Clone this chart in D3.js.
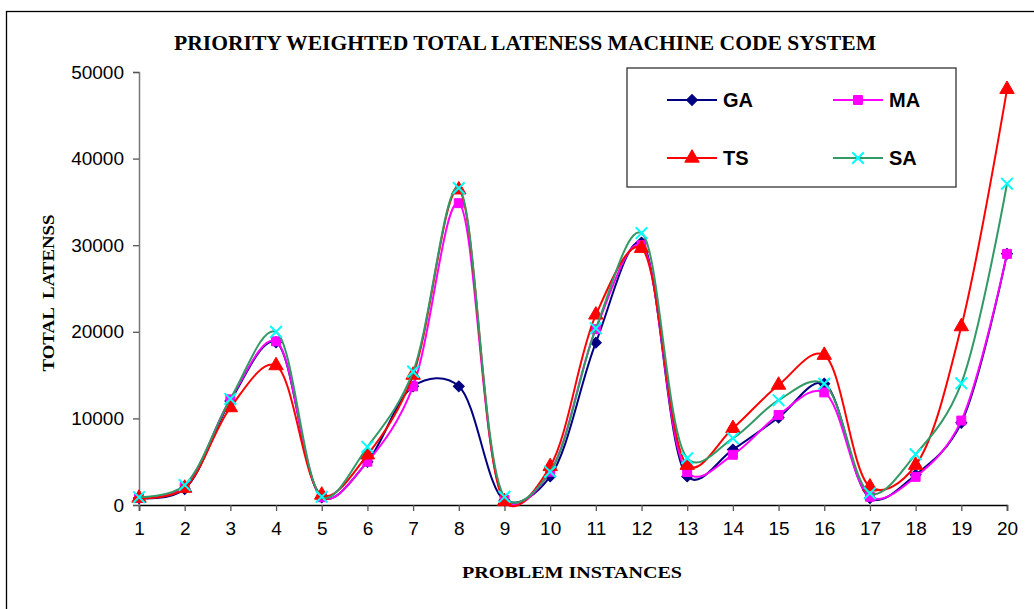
<!DOCTYPE html>
<html>
<head>
<meta charset="utf-8">
<script src="https://cdn.jsdelivr.net/npm/d3@7"></script>
<style>
  body { margin: 0; background: #fff; }
  svg { display: block; }
  text { white-space: pre; }
</style>
</head>
<body>
<div id="chart"></div>
<script>
// chart data
const instances = d3.range(1, 21)
const gaValues = [800, 1850, 12000, 18800, 900, 5000, 13700, 13700, 550, 3300, 18750, 30300, 3300, 6400, 10100, 14000, 800, 3500, 9500, 29000]
const maValues = [800, 2100, 12200, 18900, 900, 5000, 13700, 34850, 600, 3850, 20300, 30000, 3800, 5800, 10400, 13000, 950, 3250, 9750, 29000]
const tsValues = [800, 1950, 11250, 16100, 1150, 5800, 15000, 36400, 400, 4450, 21950, 29650, 4600, 8850, 13850, 17300, 2100, 4600, 20600, 48000]
const saValues = [900, 2300, 12250, 20000, 950, 6700, 15400, 36600, 950, 3850, 20400, 31400, 5400, 7700, 12100, 14000, 1350, 5850, 14050, 37100]
const yTicks = [0, 10000, 20000, 30000, 40000, 50000]

const series = [
  { name: 'GA', values: gaValues, line: '#000080', fill: '#000080', marker: 'diamond' },
  { name: 'MA', values: maValues, line: '#ff00ff', fill: '#ff00ff', marker: 'square' },
  { name: 'TS', values: tsValues, line: '#ff0000', fill: '#ff0000', marker: 'triangle' },
  { name: 'SA', values: saValues, line: '#339966', fill: '#00ffff', marker: 'cross' },
]

const W = 1034, H = 609
const margin = { top: 72, right: 27, bottom: 104, left: 139 }
const width = W - margin.left - margin.right
const height = H - margin.top - margin.bottom

const svg = d3.select('#chart').append('svg')
  .attr('width', W)
  .attr('height', H)

// outer frame (runs past the right and bottom edges)
svg.append('rect')
  .attr('x', 6.5).attr('y', 11.5)
  .attr('width', 1100).attr('height', 700)
  .attr('fill', 'none').attr('stroke', '#000').attr('stroke-width', 1.3)

const x = d3.scaleLinear().domain([1, 20]).range([0, width])
const y = d3.scaleLinear().domain([0, 50000]).range([height, 0])

const g = svg.append('g').attr('transform', `translate(${margin.left},${margin.top})`)

// axes
const xAxis = g.append('g')
  .attr('transform', `translate(0,${height})`)
  .call(d3.axisBottom(x).tickValues(instances).tickFormat(d3.format('d')).tickSize(6).tickPadding(11))
xAxis.select('.domain').attr('stroke', '#000').attr('stroke-width', 1.5)
xAxis.selectAll('.tick line').attr('stroke', '#555').attr('stroke-width', 1.3)

const yAxis = g.append('g')
  .call(d3.axisLeft(y).tickValues(yTicks).tickFormat(d3.format('d')).tickSize(6).tickPadding(9))
yAxis.select('.domain').attr('stroke', '#777').attr('stroke-width', 1.5)
yAxis.selectAll('.tick line').attr('stroke', '#555').attr('stroke-width', 1.3)

svg.selectAll('.tick text')
  .attr('font-family', 'Liberation Sans, Arial, sans-serif')
  .attr('font-size', 19)
  .attr('fill', '#000')

// lines and markers
const line = d3.line()
  .x((d, i) => x(instances[i]))
  .y(d => y(d))
  .curve(d3.curveCatmullRom.alpha(0.3))

const symbols = {
  diamond: d3.symbol().type(d3.symbolSquare).size(60),
  square: d3.symbol().type(d3.symbolSquare).size(80),
  triangle: d3.symbol().type(d3.symbolTriangle).size(90),
  cross: d3.symbol().type(d3.symbolTimes).size(90),
}

function drawMarker(sel, s) {
  sel.attr('d', symbols[s.marker]())
  // diamond = square turned 45 degrees
  if (s.marker === 'diamond') {
    sel.attr('transform', function () {
      return (this.getAttribute('transform') || '') + ' rotate(45)'
    })
  }
  if (s.marker === 'cross') {
    sel.attr('fill', 'none').attr('stroke', s.fill).attr('stroke-width', 2)
  } else {
    sel.attr('fill', s.fill).attr('stroke', s.fill).attr('stroke-width', 1)
  }
}

series.forEach(s => {
  g.append('path')
    .datum(s.values)
    .attr('d', line)
    .attr('fill', 'none')
    .attr('stroke', s.line)
    .attr('stroke-width', 2)

  g.selectAll('.m-' + s.name)
    .data(s.values)
    .join('path')
    .attr('class', 'm-' + s.name)
    .attr('transform', (d, i) => `translate(${x(instances[i])},${y(d)})`)
    .call(drawMarker, s)
})

// title and axis titles
svg.append('text')
  .attr('x', 525).attr('y', 50)
  .attr('text-anchor', 'middle')
  .attr('font-family', 'Liberation Serif, Times New Roman, serif')
  .attr('font-weight', 'bold')
  .attr('font-size', 21)
  .attr('textLength', 702)
  .attr('lengthAdjust', 'spacingAndGlyphs')
  .text('PRIORITY WEIGHTED TOTAL LATENESS MACHINE CODE SYSTEM')

svg.append('text')
  .attr('transform', 'translate(54,293) rotate(-90)')
  .attr('text-anchor', 'middle')
  .attr('font-family', 'Liberation Serif, Times New Roman, serif')
  .attr('font-weight', 'bold')
  .attr('font-size', 17)
  .attr('textLength', 157)
  .attr('lengthAdjust', 'spacingAndGlyphs')
  .text('TOTAL  LATENSS')

svg.append('text')
  .attr('x', 572).attr('y', 578)
  .attr('text-anchor', 'middle')
  .attr('font-family', 'Liberation Serif, Times New Roman, serif')
  .attr('font-weight', 'bold')
  .attr('font-size', 17)
  .attr('textLength', 220)
  .attr('lengthAdjust', 'spacingAndGlyphs')
  .text('PROBLEM INSTANCES')

// legend
const legend = svg.append('g').attr('transform', 'translate(627,68)')
legend.append('rect')
  .attr('width', 329).attr('height', 119)
  .attr('fill', '#fff').attr('stroke', '#333').attr('stroke-width', 1.3)

const legendPos = [[40, 32], [206, 32], [40, 90], [206, 90]]
series.forEach((s, i) => {
  const [lx, ly] = legendPos[i]
  const item = legend.append('g').attr('transform', `translate(${lx},${ly})`)
  item.append('line')
    .attr('x1', 0).attr('x2', 50)
    .attr('stroke', s.line).attr('stroke-width', 2)
  item.append('path')
    .attr('transform', 'translate(25,0)')
    .call(drawMarker, s)
  item.append('text')
    .attr('x', 56).attr('y', 7)
    .attr('font-family', 'Liberation Sans, Arial, sans-serif')
    .attr('font-weight', 'bold')
    .attr('font-size', 20)
    .text(s.name)
})
</script>
</body>
</html>
